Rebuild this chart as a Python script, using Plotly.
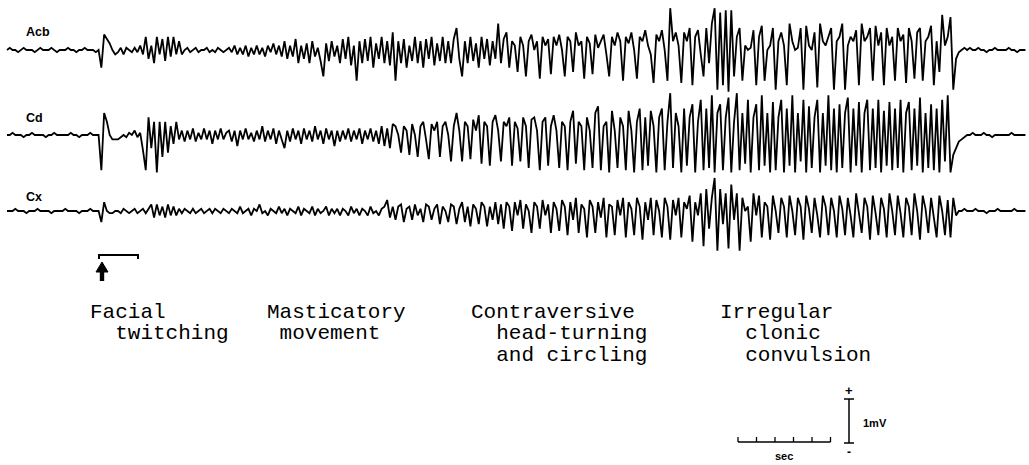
import numpy as np
import plotly.graph_objects as go

# ---------------- data (values in tenths of a millivolt, one sample every 0.15 s) ----------------
DT = 0.15
channels = ["Acb", "Cd", "Cx"]

acb = [
    0, 0.5, 0, 0, -0.5, 0, 0.5, 0, 0, 0, -0.5, 0, 0.5, 0, 0, 0, 0.5, 0, -0.5, 0,
    0, 0, 0.5, 0, 0, -0.5, 0, 0, 0.5, 0, 0, 0, -0.5, 0, -4, 3.5, 2.5, 1.5, 0, -1,
    -0.5, 0.5, -1, 0.5, 0, -0.5, 0.5, -0.5, 1, -1, 3, -2, 1, -3, 3, -1, 2.5, -2.5, 3, -1.5,
    3, -1, 2, -1, 0, 0.5, -0.5, 0, 0.5, -0.5, 0, 0, 0.5, -0.5, 0, -0.5, 0.5, 0, -0.5, 0,
    0.5, -0.5, 1, -1, 0.5, -1, 1, -1.5, 0.5, -1, 1, -1, 0.5, -1.5, 1, -0.5, 1.5, -1, 1, -1.5,
    2, -2, 1, -1.5, 2.5, -3, 1, -2, 1.5, -3, 2, -1.5, 0.5, -2.5, -6, 1.5, -2.5, 2, -1.5, 1,
    -3, 2.5, -2, 3, -3.5, 1, -7, 2, -3, 2.5, -2.5, 3, -4, 1.5, -2, 3, -3, 2, -3.5, 4,
    -7, 2, -3, 2.5, -4, 1, -2.5, 3, -3, 2, -4, 2.5, -2, 3, -3.5, 1.5, -2.5, 3, -3, 2,
    -3, 2.5, 5, -2, -6, 2, -3, 3, -2.5, 1.5, -4, 3, -2, 2.5, -3.5, 2, -2, 6, -3, 2.5,
    4, -4, 2, 1, -5, 3, 1, -6, 2, 3.5, 0, 2, -6.5, 3, 1, 2.5, -5.5, 3, 1, 3.5,
    0, -6, 3, 2, -5, 4, 1, 2, -6.5, 3, 1.5, -5.5, 3.5, 0.5, 2, 3.5, -1, -6, 3, 1,
    4, 2, -7, 3, 1.5, 4, 0, -6.5, 3, 2, 4.5, 1, -1, -7.5, 3.5, 2, 4.5, 0, -7, 9.5,
    2, 4, 1, -7.5, 4, 2, 5, -8, 3, 4.5, -1, -6, 5, -3, 6, 9.5, -9, 8.5, -8, 9,
    -9.5, 9, -6, 3, 5, -7, 1, 0, 0.5, 4.5, -8, 3, 5.5, -7, 0, 1, 5, -9, 2, 4,
    1, -8, 6, 2, 0, 0.5, 5, -9, 5.5, 1, 0, 4, -8.5, 6, 2, 1, 3, 5, -9, 2,
    3, 6, -9, 1, 3, 2, 4.5, -8, 6, 2, 3, 5, -7, 5.5, 1, 4, -8, 5, 1, 3,
    -7, 5, 2, 3.5, -7.5, 5, 2, -6.5, 4, 5, -7, 2, 3, 5.5, -8, 2, -5, 8, 1, 3,
    7.5, -9, -2, -0.5, 0, 0.5, 0, 0.5, 0, 0, 0.5, 0, 0, -0.5, 0, 0, 0.5, 0, 0, 0,
    0, 0.5, 0, 0, -0.5, 0, 0, 0,
]

cd = [
    0, 0, 0.5, 0, 0, 0, -0.5, 0, 0, 0.5, 0, 0, 0, 0, -0.5, 0, 0, 0.5, 0, 0,
    0, 0, 0, 0.5, 0, 0, -0.5, 0, 0, 0, 0.5, 0, 0, 0, -8, 5, 3, 0, -1, -1,
    -1, -0.5, 0, -0.5, 0.5, 0, 1, -0.5, 0.5, -3.5, -8, 4, -3, 3, -8.5, 3, -5, 3, -4, 2,
    -2, 3, -1, 1, -1.5, 1, -1, 1.5, -1.5, 0.5, -1, 1.5, -1, 1, -2, 1, -1, 1.5, -1, 0.5,
    1, -1.5, 1, -2.5, 1, -1, 1.5, -1, 0.5, -1.5, 1, -1, 2, -1.5, 1, -1, 1.5, -2, 1, -1,
    -3, 1, -1.5, 1.5, -1, 1, -2, 1.5, -1, 1, -1.5, 2, -1, 1, -2, 1.5, -1, 1, -2.5, 1,
    -1.5, 1, -1, 1.5, -1.5, 1, -1, 1.5, -2, 1, -1, 1.5, -1.5, 1, -2, 2, -2.5, 1.5, -3, 2.5,
    2, 0, -4, 2, 1, -4.5, 2.5, 0, -5, 2, 3, -1, -5.5, 2.5, 1, 3, -5, 2, 3, 0,
    -6, 2, 5, 1, -6, 3, 2, -5.5, 3.5, 1, 4.5, -6.5, 3, 2, -7, 3, 4.5, 1, -6, 3,
    2, 4, -7, 3, 1.5, -6, 4, 2, -7.5, 3.5, 4, 1, -8, 3, 4, -7, 2, 4.5, 1, -7.5,
    3, 2, -8, 3, 5.5, -6.5, 3, 2, -8, 4, 1, -7.5, 5, 6.5, -8, 2, 3, -8.5, 5.5, 1,
    -7.5, 4, 2, -8, 5.5, 1, -8.5, 3, 6, -8, 4, -7, 5.5, 2, -8.5, 4, 6, -8, 3, 9.5,
    -7.5, 5, 2, -8.5, 6, -7, 4, 7, -8.5, 3, 8, -8, 6, -7.5, 9, -8.5, 5, 7, -8, 4,
    8.5, -8.5, 3, 9.5, -8, 5, -6.5, 8, -8.5, 4, 7, -8, 9, -7, 5, -8.5, 7.5, -8, 4, 8,
    -8.5, 6, -7, 9, -8.5, 5, -6, 8, -8.5, 6.5, -7.5, 4, 8, -8.5, 5, -7, 9, -8, 6, -8.5,
    7, -7.5, 5, 8.5, -8.5, 6, -7, 7.5, -8.5, 5, 8, -8, 6, -7.5, 8, -8.5, 5.5, -7, 7.5, -8,
    6, -7.5, 8, -8.5, 5, 7.5, -8, 6, -7, 8.5, -8.5, 5, -7.5, 7, -8, 6, -8.5, 8, -6, 9,
    -8.5, -4.5, -3, -1.5, -1, -0.5, 0, 0, 0.5, 0, 0, 0, 0.5, 0, 0, -0.5, 0, 0, 0, 0,
    0, 0, 0.5, 0, 0, 0, 0, 0,
]

cx = [
    0, 0, 0, 0.5, 0, 0, 0, -0.5, 0, 0, 0, 0.5, 0, 0, 0, 0, -0.5, 0, 0, 0,
    0, 0.5, 0, 0, 0, 0, -0.5, 0, 0, 0, 0.5, 0, 0, 0, -2.5, 2, 0, -0.5, -0.5, 0,
    0, -0.5, 0.5, 0, -0.5, 0, 0.5, -0.5, 0, 0.5, -0.5, 0.5, 1.5, -1.5, 1.5, -1, 1, -1.5, 1.5, -1,
    1, -1, 0.5, -0.5, 0.5, 0, -0.5, 0.5, -0.5, 0, 0.5, -0.5, 0, 0.5, -0.5, 0.5, 0, -0.5, 0.5, 0,
    -0.5, 0.5, 0, -0.5, 1, -0.5, 0, 0.5, -1, 0.5, 0, 1.5, -0.5, 0, -1, 0.5, 0, -0.5, 1, -0.5,
    0.5, -1, 0.5, 0, -0.5, 1, -1, 0.5, 0, -0.5, 1, -1, 0.5, -0.5, 0, 1, -1, 0.5, -0.5, 0.5,
    -1, 0.5, 0, -1, 1, -0.5, 0.5, -1, 0.5, 0, -1, 1, -0.5, 0, -1, 0.5, 1, 2.5, -1.5, 1,
    -2, 1, 1.5, -2.5, 0.5, 1, -2, 1.5, -1, 0.5, -2.5, 1.5, 1, -2, 0.5, 1.5, -3, 1, 0, -2.5,
    1.5, 1, -3, 0.5, 2, -2.5, 1, -3.5, 1.5, 0.5, -3, 2, 1, -3.5, 1, -2, 2, -3, 1.5, -4,
    2, 1, -4.5, 2, -1, 2.5, -4, 1.5, 0, -5, 2, 1, -4, 2.5, -1, 1.5, -5, 2, 0.5, -4.5,
    2.5, 1, -5.5, 2, -2, 3, -5, 1.5, 0.5, -6, 2.5, 1, -5, 2, -1.5, 3, -6, 1.5, 1, -5.5,
    2.5, -1, 3, -6, 2, 0.5, -5.5, 3, 1, -6.5, 2, -2, 3, -5.5, 2.5, 0, -6, 3, 1, -6.5,
    2.5, -1, 3, -6, 2, 0.5, 3.5, -7, 2, -1, 4, -8, 5, -4, 3, 7.5, -9, 5, -3, 4,
    -8.5, 6, -2, 4, -9, 3, 0, 1, -7, 4, -1, 3.5, -6, 2, 1, -6.5, 3.5, 0, -5, 3,
    1, -6, 3.5, 0, -5.5, 3, 1, -6.5, 3.5, 0.5, -5, 3, -1, -6, 3.5, 1, -5.5, 3, 0, -6,
    3.5, 0.5, -5.5, 3, -1, -6, 4, 0, -5, 3, 1, -6.5, 3.5, -0.5, -5.5, 3, 0.5, -6, 4, 0,
    -5.5, 3.5, -0.5, -6, 3, 1, -5.5, 4, 0, -6.5, 3.5, 0.5, -5, 3, -1, -6, 3.5, 0, -5.5, 2.5,
    -6, 3, -1, 0, 0, 0.5, 0, 0, 0, 0.5, 0, 0, 0, -0.5, 0, 0, 0, 0.5, 0, 0,
    0, 0, 0, 0.5, 0, 0, 0, 0,
]

behaviours = [
    ["Facial", "  twitching"],
    ["Masticatory", " movement"],
    ["Contraversive", "  head-turning", "  and circling"],
    ["Irregular", "  clonic", "  convulsion"],
]
time_bar_s = 5
volt_bar_mv = 1

# ---------------- layout constants ----------------
W, H = 1029, 465
PX_PER_S = 18.5
PX_PER_MV = 44.0
X0_PX = 7          # pixel of t = 0
Y0_PX = 50         # pixel of the Acb baseline
offset_px = {"Acb": 0, "Cd": 85, "Cx": 161}


def xd(px):
    return (px - X0_PX) / PX_PER_S


def yd(py):
    return (Y0_PX - py) / PX_PER_MV


fig = go.Figure()
for name, vals in zip(channels, [acb, cd, cx]):
    v = np.array(vals, dtype=float) / 10.0
    t = np.arange(len(v)) * DT
    fig.add_trace(go.Scatter(
        x=t, y=v - offset_px[name] / PX_PER_MV, mode="lines",
        line=dict(color="black", width=1.8), name=name, hoverinfo="skip",
    ))

sans = "Arial, Liberation Sans, sans-serif"
label_font = dict(family=sans, size=12.5, color="black", weight="bold")
for name, ly in zip(channels, [32, 118, 197]):
    fig.add_annotation(x=xd(24), y=yd(ly), text=name, showarrow=False,
                       xanchor="left", yanchor="middle", font=label_font)

mono = dict(family="Courier New, Liberation Mono, monospace", size=21, color="black")
text_x = [88, 265, 469, 718]
line_y = [312, 333, 355]
for bx, lines in zip(text_x, behaviours):
    for k, line in enumerate(lines):
        fig.add_annotation(x=xd(bx), y=yd(line_y[k]), text=line.replace(" ", "&nbsp;"),
                           showarrow=False, xanchor="left", yanchor="middle", font=mono)

# stimulus arrow (head + shaft) and bracket
fig.add_shape(type="path",
              path=f"M {xd(102)},{yd(262)} L {xd(96)},{yd(272)} L {xd(108)},{yd(272)} Z",
              fillcolor="black", line=dict(color="black", width=1))
fig.add_shape(type="rect", x0=xd(99.8), x1=xd(104.2), y0=yd(281), y1=yd(271),
              fillcolor="black", line=dict(width=0))
fig.add_shape(type="path",
              path=f"M {xd(99)},{yd(259)} L {xd(99)},{yd(255)} L {xd(138)},{yd(255)} L {xd(138)},{yd(259)}",
              line=dict(color="black", width=2))

# time scale bar
tb0 = xd(738)
yb = yd(442)
fig.add_shape(type="line", x0=tb0, x1=tb0 + time_bar_s, y0=yb, y1=yb, line=dict(color="black", width=1.3))
for k in range(time_bar_s + 1):
    fig.add_shape(type="line", x0=tb0 + k, x1=tb0 + k, y0=yb, y1=yb + 5 / PX_PER_MV,
                  line=dict(color="black", width=1.3))
fig.add_annotation(x=tb0 + time_bar_s / 2, y=yd(456), text="sec", showarrow=False,
                   font=dict(family=sans, size=11, color="black", weight="bold"))

# voltage scale bar
vx = xd(849)
vb = yd(443)
cap = 5 / PX_PER_S
fig.add_shape(type="line", x0=vx, x1=vx, y0=vb, y1=vb + volt_bar_mv, line=dict(color="black", width=1.5))
for yy in (vb, vb + volt_bar_mv):
    fig.add_shape(type="line", x0=vx - cap, x1=vx + cap, y0=yy, y1=yy, line=dict(color="black", width=1.5))
fig.add_annotation(x=vx, y=yd(390), text="+", showarrow=False,
                   font=dict(family=sans, size=13, color="black", weight="bold"))
fig.add_annotation(x=vx, y=yd(452), text="-", showarrow=False,
                   font=dict(family=sans, size=12, color="black", weight="bold"))
fig.add_annotation(x=xd(861), y=yd(423), text="1mV", showarrow=False, xanchor="left",
                   font=dict(family=sans, size=11, color="black", weight="bold"))

fig.update_layout(
    width=W, height=H, margin=dict(l=0, r=0, t=0, b=0, pad=0),
    paper_bgcolor="white", plot_bgcolor="white", showlegend=False,
    xaxis=dict(range=[xd(0), xd(W)], visible=False, fixedrange=True),
    yaxis=dict(range=[yd(H), yd(0)], visible=False, fixedrange=True),
)
fig.write_html(
    "out.html",
    config={"displayModeBar": False, "staticPlot": True},
    post_script="document.body.style.margin='0';document.documentElement.style.overflow='hidden';",
)
